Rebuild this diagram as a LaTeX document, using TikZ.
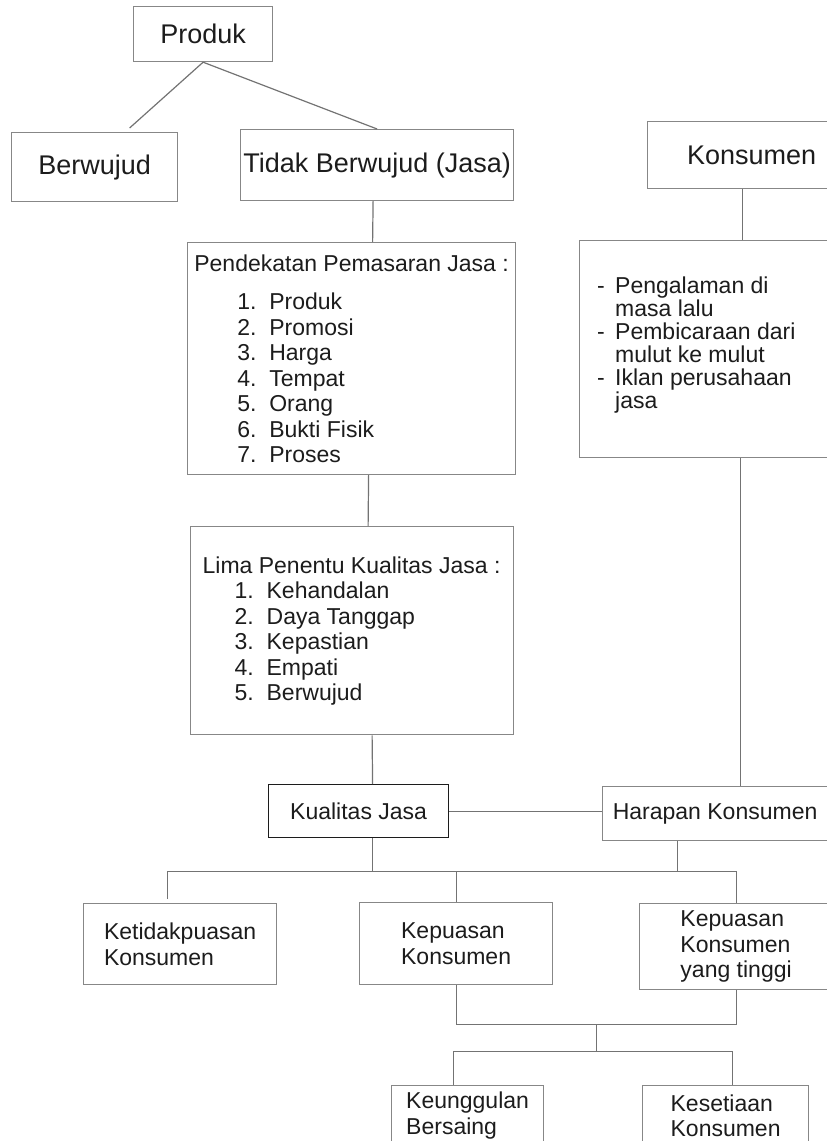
\documentclass[tikz,border=0pt]{standalone}
\usepackage{fontspec}
\setmainfont{Liberation Sans}
\usetikzlibrary{positioning,calc}
\definecolor{linegray}{RGB}{115,115,115}
\definecolor{boxgray}{RGB}{135,135,135}
\definecolor{inkgray}{RGB}{28,28,28}
\newcommand{\numitem}[2]{\makebox[32pt][l]{#1}#2}
\newcommand{\dashitem}{\makebox[18pt][l]{-}}

\begin{document}
\begin{tikzpicture}[x=1pt, y=-1pt,
  box/.style={draw=boxgray, line width=1.2pt, anchor=north west,
              inner sep=0pt, text=inkgray, align=center},
  big/.style={font=\fontsize{27}{31}\selectfont},
  mid/.style={font=\fontsize{23}{25.5}\selectfont},
  link/.style={draw=linegray, line width=1.2pt}
]
\path[use as bounding box, clip] (0,0) rectangle (827,1141);

% top part
\node[box, big, minimum width=139pt, minimum height=55pt] (produk) at (133,6) {Produk};
\node[box, big, minimum width=166pt, minimum height=69pt] (berwujud) at (11,132) {Berwujud};
\node[box, big, minimum width=273pt, minimum height=71pt] (tidak) at (240,129) {Tidak Berwujud (Jasa)};
\node[box, big, minimum width=208pt, minimum height=67pt] (konsumen) at (647,121) {Konsumen};

\node[box, minimum width=260pt, minimum height=217pt] (sumber) at (579,240) {};
\node[anchor=north west, inner sep=0pt, text=inkgray, align=left,
      font=\fontsize{23}{23}\selectfont] (sumbertxt) at ($(sumber.north west)+(18,37)$)
  {\dashitem Pengalaman di\\\hspace*{18pt}masa lalu\\\dashitem Pembicaraan dari\\
   \hspace*{18pt}mulut ke mulut\\\dashitem Iklan perusahaan\\\hspace*{18pt}jasa};

\node[box, mid, align=left, minimum width=328pt, minimum height=232pt] (pendekatan) at (187,242)
  {Pendekatan Pemasaran Jasa :\\[13pt]
   \hspace*{43pt}\numitem{1.}{Produk}\\
   \hspace*{43pt}\numitem{2.}{Promosi}\\
   \hspace*{43pt}\numitem{3.}{Harga}\\
   \hspace*{43pt}\numitem{4.}{Tempat}\\
   \hspace*{43pt}\numitem{5.}{Orang}\\
   \hspace*{43pt}\numitem{6.}{Bukti Fisik}\\
   \hspace*{43pt}\numitem{7.}{Proses}};
\node[box, mid, align=left, minimum width=323pt, minimum height=208pt,
      below=51pt of pendekatan] (lima)
  {Lima Penentu Kualitas Jasa :\\
   \hspace*{32pt}\numitem{1.}{Kehandalan}\\
   \hspace*{32pt}\numitem{2.}{Daya Tanggap}\\
   \hspace*{32pt}\numitem{3.}{Kepastian}\\
   \hspace*{32pt}\numitem{4.}{Empati}\\
   \hspace*{32pt}\numitem{5.}{Berwujud}};

% lower part
\node[box, mid, draw=inkgray, minimum width=180pt, minimum height=53pt] (kualitas) at (268,784) {Kualitas Jasa};
\node[box, mid, minimum width=225pt, minimum height=54pt] (harapan) at (602,786) {Harapan Konsumen};
\node[box, mid, align=left, minimum width=193pt, minimum height=81pt] (ketidak) at (83,903) {Ketidakpuasan\\Konsumen};
\node[box, mid, align=left, minimum width=193pt, minimum height=82pt] (kepuasan) at (359,902) {Kepuasan\\Konsumen};
\node[box, mid, align=left, minimum width=193pt, minimum height=86pt] (tinggi) at (639,903) {Kepuasan\\Konsumen\\yang tinggi};
\node[box, mid, align=left, minimum width=152pt, minimum height=60pt] (keunggulan) at (391,1085) {Keunggulan\\Bersaing};
\node[box, mid, align=left, minimum width=166pt, minimum height=60pt] (kesetiaan) at (642,1085) {Kesetiaan\\Konsumen};

% connectors
\draw[link] (produk.south) -- ($(berwujud.north)+(35,-4)$);
\draw[link] (produk.south) -- (tidak.north);
\draw[link] ($(tidak.south)+(-4,0)$) -- ($(pendekatan.north)+(21,0)$);
\draw[link] ($(pendekatan.south)+(17,0)$) -- ($(lima.north)+(16.5,0)$);
\draw[link] ($(lima.south)+(20.5,0)$) -- ($(kualitas.north)+(14,0)$);
\draw[link] ($(konsumen.south)+(-9,0)$) -- ($(sumber.north)+(33,0)$);
\draw[link] ($(sumber.south)+(31,0)$) -- ($(harapan.north)+(25.5,0)$);
\draw[link] (kualitas.east) -- (kualitas.east -| harapan.west);

\coordinate (bus1) at ($(kualitas.south)+(14,33)$);
\draw[link] ($(kualitas.south)+(14,0)$) -- (bus1);
\draw[link] ($(harapan.south)+(-37.5,0)$) -- ($(harapan.south)+(-37.5,30)$);
\draw[link] ($(ketidak.north)+(-12.5,-4)$) |- (bus1) -| (tinggi.north);
\draw[link] (kepuasan.north) -- (kepuasan.north |- bus1);

\coordinate (join) at ($(kepuasan.south)+(140,39)$);
\draw[link] (kepuasan.south) |- (join) -| (tinggi.south);
\coordinate (bus2) at ($(join)+(0,27)$);
\draw[link] (join) -- (bus2);
\draw[link] ($(keunggulan.north)+(-14,0)$) |- (bus2) -| ($(kesetiaan.north)+(7,0)$);
\end{tikzpicture}
\end{document}
